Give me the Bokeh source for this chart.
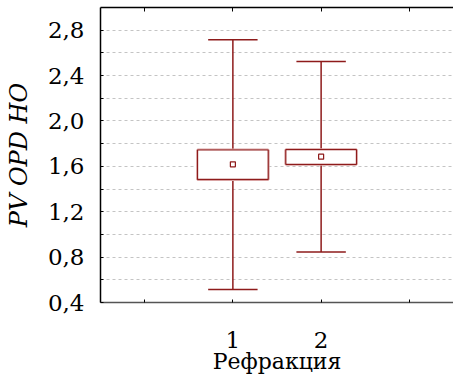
from bokeh.plotting import figure
from bokeh.models import LinearAxis, FixedTicker, CustomJSTickFormatter, ColumnDataSource
from bokeh.embed import file_html
from bokeh.resources import INLINE

# Data
categories = ["1", "2"]
positions = [1, 2]
q1 = [1.485, 1.618]
q3 = [1.744, 1.747]
center = [1.618, 1.685]
wmin = [0.515, 0.844]
wmax = [2.715, 2.523]

y_major = [0.4, 0.8, 1.2, 1.6, 2.0, 2.4, 2.8]
y_minor = [0.6, 1.0, 1.4, 1.8, 2.2, 2.6]
x_ticks = [0, 1, 2, 3]

DARK = "#8e1b1b"
GLOW = "#d9a3a3"
FONT = "DejaVu Serif"

box_half = 0.4
cap_half = 0.28

src = ColumnDataSource(dict(
    x=positions,
    left=[p - box_half for p in positions],
    right=[p + box_half for p in positions],
    cl=[p - cap_half for p in positions],
    cr=[p + cap_half for p in positions],
    q1=q1, q3=q3, c=center, lo=wmin, hi=wmax,
))

p = figure(width=453, height=378, x_range=(-0.5, 3.5), y_range=(0.4, 3.0),
           output_backend="svg", toolbar_location=None,
           min_border_left=100, min_border_right=0, min_border_top=7,
           min_border_bottom=76, x_axis_location=None, y_axis_location=None)
p.outline_line_color = None
p.background_fill_color = "white"
p.border_fill_color = "white"

# axes
xa = LinearAxis(ticker=FixedTicker(ticks=x_ticks),
                formatter=CustomJSTickFormatter(code="return (tick==1||tick==2) ? String(tick) : ''"))
xa.axis_label = "Рефракция"
xa.axis_label_text_font = FONT
xa.axis_label_text_font_size = "22px"
xa.axis_label_text_font_style = "normal"
xa.axis_label_text_color = "black"
xa.axis_label_standoff = -2
xa.major_label_text_font = FONT
xa.major_label_text_font_size = "23px"
xa.major_label_text_color = "black"
xa.major_label_standoff = 29
xa.major_tick_in = 3
xa.major_tick_out = 0
xa.minor_tick_line_color = None
xa.axis_line_color = "#555555"
xa.axis_line_width = 1.5
xa.major_tick_line_color = "black"
p.add_layout(xa, "below")

ta = LinearAxis(ticker=FixedTicker(ticks=x_ticks),
                formatter=CustomJSTickFormatter(code="return ''"))
ta.major_label_text_font_size = "0px"
ta.major_label_standoff = 0
ta.major_tick_in = 4
ta.major_tick_out = 0
ta.minor_tick_line_color = None
ta.axis_line_color = "black"
ta.axis_line_width = 1.5
p.add_layout(ta, "above")

ya = LinearAxis(ticker=FixedTicker(ticks=y_major, minor_ticks=y_minor),
                formatter=CustomJSTickFormatter(code="return tick.toFixed(1).replace('.', ',')"))
ya.axis_label = "PV OPD HO"
ya.axis_label_text_font = FONT
ya.axis_label_text_font_size = "24px"
ya.axis_label_text_font_style = "italic"
ya.axis_label_text_color = "black"
ya.axis_label_standoff = 12
ya.major_label_text_font = FONT
ya.major_label_text_font_size = "23px"
ya.major_label_text_color = "black"
ya.major_label_standoff = 16
ya.major_tick_in = 3
ya.major_tick_out = 0
ya.minor_tick_in = 3
ya.minor_tick_out = 0
ya.axis_line_color = "black"
ya.axis_line_width = 1.5
p.add_layout(ya, "left")

p.xgrid.visible = False
p.ygrid.ticker = FixedTicker(ticks=y_major, minor_ticks=y_minor)
p.ygrid.grid_line_color = "#c4c4c4"
p.ygrid.grid_line_dash = "3 3"
p.ygrid.minor_grid_line_color = "#c4c4c4"
p.ygrid.minor_grid_line_dash = "3 3"

# whiskers
p.segment(x0="x", y0="q3", x1="x", y1="hi", source=src, line_color=DARK, line_width=1.5)
p.segment(x0="x", y0="q1", x1="x", y1="lo", source=src, line_color=DARK, line_width=1.5)
p.segment(x0="cl", y0="hi", x1="cr", y1="hi", source=src, line_color=DARK, line_width=1.5)
p.segment(x0="cl", y0="lo", x1="cr", y1="lo", source=src, line_color=DARK, line_width=1.5)

# boxes
p.quad(left="left", right="right", bottom="q1", top="q3", source=src,
       fill_color="white", line_color=GLOW, line_width=3)
p.quad(left="left", right="right", bottom="q1", top="q3", source=src,
       fill_color="white", line_color=DARK, line_width=1.2)

# center markers
p.scatter(x="x", y="c", source=src, marker="square", size=5,
          fill_color="white", line_color=DARK, line_width=1.2)

open("out.html", "w").write(file_html(p, INLINE))
